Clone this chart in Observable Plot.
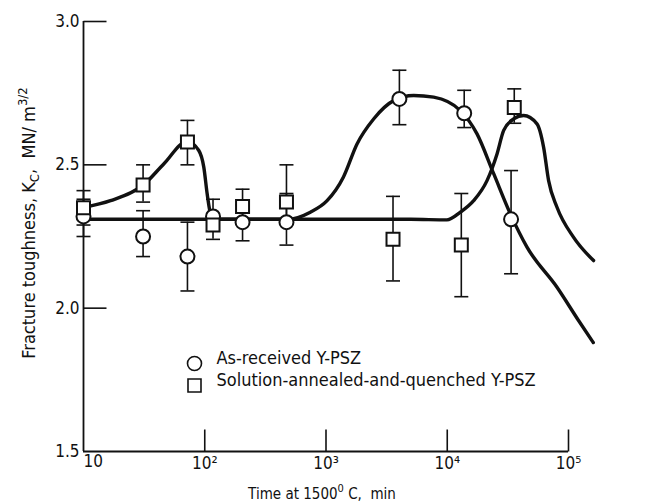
<!DOCTYPE html>
<html><head><meta charset="utf-8">
<script src="https://cdn.jsdelivr.net/npm/d3@7"></script>
<script src="https://cdn.jsdelivr.net/npm/@observablehq/plot@0.6"></script>
<style>
body{margin:0;background:#fff;}
#chart{width:665px;height:502px;}
svg{font-family:'DejaVu Sans Condensed','Liberation Sans Narrow','DejaVu Sans',sans-serif;font-stretch:condensed;}
</style></head><body><div id="chart"></div>
<script>
// As-received Y-PSZ (circles)
const asReceivedTime = [10, 31, 72, 117, 205, 472, 4030, 13800, 33600];
const asReceivedValue = [2.32, 2.25, 2.18, 2.32, 2.30, 2.30, 2.73, 2.68, 2.31];
const asReceivedLow  = [2.25, 2.18, 2.06, 2.27, 2.235, 2.22, 2.64, 2.63, 2.12];
const asReceivedHigh = [2.38, 2.34, 2.30, 2.38, 2.36, 2.40, 2.83, 2.76, 2.48];
// Solution-annealed-and-quenched Y-PSZ (squares)
const quenchedTime = [10, 31, 72, 117, 205, 472, 3570, 13060, 35700];
const quenchedValue = [2.35, 2.43, 2.58, 2.29, 2.355, 2.37, 2.24, 2.22, 2.70];
const quenchedLow  = [2.29, 2.37, 2.50, 2.24, 2.30, 2.30, 2.095, 2.04, 2.645];
const quenchedHigh = [2.41, 2.50, 2.655, 2.33, 2.415, 2.50, 2.39, 2.40, 2.765];
// Hand-drawn trend curves (knots)
const asReceivedCurveTime = [10, 100, 300, 481, 743, 1021, 1390, 1803, 2471, 3614, 5284, 7727, 12820, 17600, 24150, 33140, 45470, 80400, 121000, 160000];
const asReceivedCurveValue = [2.31, 2.31, 2.31, 2.31, 2.335, 2.375, 2.457, 2.573, 2.66, 2.724, 2.742, 2.736, 2.689, 2.608, 2.469, 2.329, 2.213, 2.073, 1.957, 1.88];
const quenchedCurveTime = [10, 16.7, 31.4, 45.9, 71.6, 89.3, 98.2, 104.7, 110, 118.5, 142.5, 1000, 5000, 9950, 12830, 16510, 21280, 25740, 29200, 35300, 42660, 54950, 62350, 68530, 80380, 110200, 161000];
const quenchedCurveValue = [2.351, 2.375, 2.431, 2.503, 2.582, 2.55, 2.492, 2.399, 2.341, 2.312, 2.31, 2.31, 2.31, 2.308, 2.335, 2.375, 2.445, 2.538, 2.62, 2.66, 2.672, 2.643, 2.561, 2.445, 2.352, 2.247, 2.166];
// Axis ticks
const xTicks = [10, 100, 1000, 10000, 100000];
const xTickLabels = ["10", "10²", "10³", "10⁴", "10⁵"];
const yTicks = [1.5, 2.0, 2.5, 3.0];

const asReceived = asReceivedTime.map((t, i) => ({t, v: asReceivedValue[i], lo: asReceivedLow[i], hi: asReceivedHigh[i]}));
const quenched = quenchedTime.map((t, i) => ({t, v: quenchedValue[i], lo: quenchedLow[i], hi: quenchedHigh[i]}));
const asReceivedCurve = asReceivedCurveTime.map((t, i) => ({t, v: asReceivedCurveValue[i]}));
const quenchedCurve = quenchedCurveTime.map((t, i) => ({t, v: quenchedCurveValue[i]}));

const capSym = {draw(ctx) { ctx.moveTo(-7, 0); ctx.lineTo(7, 0); }};
const yTickSym = {draw(ctx) { ctx.moveTo(0, 0); ctx.lineTo(23, 0); }};
const xTickSym = {draw(ctx) { ctx.moveTo(0, 0); ctx.lineTo(0, -22); }};
const squareSym = {draw(ctx) { ctx.rect(-6.5, -6.5, 13, 13); }};
const circleSym = {draw(ctx) { ctx.moveTo(7, 0); ctx.arc(0, 0, 7, 0, 2 * Math.PI); }};

const errMarks = (data) => [
  Plot.ruleX(data, {x: "t", y1: "lo", y2: "hi", stroke: "#111", strokeWidth: 1.6}),
  Plot.dot(data, {x: "t", y: "lo", symbol: capSym, stroke: "#111", strokeWidth: 1.6}),
  Plot.dot(data, {x: "t", y: "hi", symbol: capSym, stroke: "#111", strokeWidth: 1.6})
];

const svg = Plot.plot({
  width: 665, height: 502,
  marginLeft: 83, marginRight: 97, marginTop: 21, marginBottom: 51,
  style: {fontSize: "17px", background: "white", color: "#111"},
  x: {type: "log", domain: [10, 100000]},
  y: {domain: [1.5, 3.0]},
  marks: [
    Plot.axisY({ticks: yTicks, tickSize: 0, tickPadding: 4, tickFormat: d3.format(".1f"), label: null, fontSize: 17}),
    Plot.axisX({ticks: xTicks.slice(1), tickSize: 0, tickPadding: 5, tickFormat: (d) => xTickLabels[xTicks.indexOf(d)], label: null, fontSize: 17}),
    Plot.text([xTickLabels[0]], {x: xTicks[0], text: (d) => d, frameAnchor: "bottom", textAnchor: "start", dy: 15, fontSize: 17, fill: "#111"}),
    Plot.ruleX([10], {stroke: "#111", strokeWidth: 1.8}),
    Plot.ruleY([1.5], {stroke: "#111", strokeWidth: 1.8}),
    Plot.dot(yTicks.slice(1), {y: (d) => d, frameAnchor: "left", symbol: yTickSym, stroke: "#111", strokeWidth: 1.6}),
    Plot.dot(xTicks.slice(1), {x: (d) => d, frameAnchor: "bottom", symbol: xTickSym, stroke: "#111", strokeWidth: 1.6}),
    Plot.line(quenchedCurve, {x: "t", y: "v", curve: "monotone-x", stroke: "#111", strokeWidth: 3.4}),
    Plot.line(asReceivedCurve, {x: "t", y: "v", curve: "monotone-x", stroke: "#111", strokeWidth: 3.4}),
    ...errMarks(asReceived),
    ...errMarks(quenched),
    Plot.dot(asReceived, {x: "t", y: "v", symbol: circleSym, fill: "white", stroke: "#111", strokeWidth: 2}),
    Plot.dot(quenched, {x: "t", y: "v", symbol: squareSym, fill: "white", stroke: "#111", strokeWidth: 2}),
    // legend
    Plot.dot(["As-received Y-PSZ"], {frameAnchor: "bottom-left", dx: 111, dy: -88, symbol: circleSym, fill: "white", stroke: "#111", strokeWidth: 1.6}),
    Plot.dot(["Solution-annealed-and-quenched Y-PSZ"], {frameAnchor: "bottom-left", dx: 111, dy: -66, symbol: squareSym, fill: "white", stroke: "#111", strokeWidth: 1.6}),
    Plot.text(["As-received Y-PSZ"], {text: (d) => d, frameAnchor: "bottom-left", dx: 133, dy: -88, textAnchor: "start", fontSize: 18, fill: "#111"}),
    Plot.text(["Solution-annealed-and-quenched Y-PSZ"], {text: (d) => d, frameAnchor: "bottom-left", dx: 133, dy: -66, textAnchor: "start", fontSize: 18, fill: "#111"})
  ]
});

const s = d3.select(svg);
// y-axis title
const yt = s.append("text").attr("transform", "translate(35,223) rotate(-90)").attr("text-anchor", "middle")
  .attr("font-size", 18).attr("fill", "#111");
yt.append("tspan").text("Fracture toughness, K");
yt.append("tspan").attr("font-size", 13).attr("dy", 4).text("C");
yt.append("tspan").attr("dy", -4).text(",  MN/ m");
yt.append("tspan").attr("font-size", 13).attr("dy", -8).text("3/2");
// x-axis title
const xt = s.append("text").attr("x", 322).attr("y", 499).attr("text-anchor", "middle")
  .attr("font-size", 15).attr("fill", "#111");
xt.append("tspan").text("Time at 1500");
xt.append("tspan").attr("font-size", 11).attr("dy", -7).text("0");
xt.append("tspan").attr("dy", 7).text(" C,  min");

document.getElementById("chart").appendChild(svg);
</script>
</body></html>
